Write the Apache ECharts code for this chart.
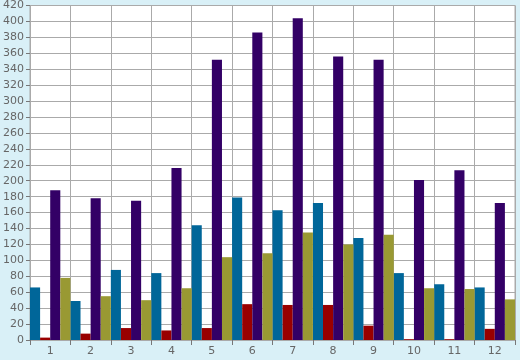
<!DOCTYPE html>
<html><head><meta charset="utf-8">
<script src="https://cdn.jsdelivr.net/npm/echarts@6/dist/echarts.min.js"></script>
<style>html,body{margin:0;padding:0;background:#d9f0f7}#c{width:520px;height:360px}</style>
</head><body><div id="c"></div>
<script>
var categories = ['1','2','3','4','5','6','7','8','9','10','11','12'];
var tealValues = [66, 49, 88, 84, 144, 179, 163, 172, 128, 84, 70, 66];
var redValues = [3, 8, 15, 12, 15, 45, 44, 44, 18, 1, 1, 14];
var purpleValues = [188, 178, 175, 216, 352, 386, 404, 356, 352, 201, 213, 172];
var oliveValues = [78, 55, 50, 65, 104, 109, 135, 120, 132, 65, 64, 51];

var chart = echarts.init(document.getElementById('c'));
var lbl = {color:'#666', fontFamily:'DejaVu Sans', fontSize:11};
function bar(name, data, color){
  return {name:name, type:'bar', data:data, barGap:'0%', barCategoryGap:'0%',
    itemStyle:{color:color}, animation:false};
}
chart.setOption({
  backgroundColor:'#d9f0f7',
  animation:false,
  grid:{left:26, right:5, top:5, bottom:20, show:true, backgroundColor:'#ffffff', borderColor:'#aaaaaa', borderWidth:1},
  xAxis:{type:'category', data:categories,
    axisLine:{show:true, lineStyle:{color:'#aaaaaa'}},
    axisTick:{show:true, length:5, lineStyle:{color:'#777777'}},
    axisLabel:Object.assign({margin:6}, lbl),
    splitLine:{show:true, lineStyle:{color:'#aaaaaa', width:1}}},
  yAxis:{type:'value', min:0, max:420, interval:20,
    axisLine:{show:true, lineStyle:{color:'#aaaaaa'}},
    axisTick:{show:true, length:4, lineStyle:{color:'#777777'}},
    axisLabel:Object.assign({margin:6}, lbl),
    splitLine:{show:true, lineStyle:{color:'#aaaaaa', width:1}}},
  series:[
    bar('a', tealValues, '#006699'),
    bar('b', redValues, '#990000'),
    bar('c', purpleValues, '#330066'),
    bar('d', oliveValues, '#999933')
  ]
});
</script></body></html>
